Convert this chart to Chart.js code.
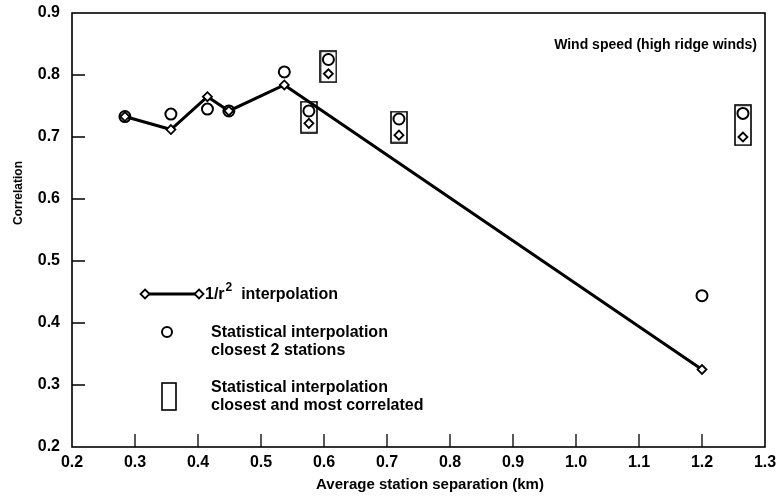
<!DOCTYPE html>
<html>
<head>
<meta charset="utf-8">
<script src="https://cdn.jsdelivr.net/npm/chart.js@4.4.1/dist/chart.umd.min.js"></script>
<style>
  html, body { margin: 0; padding: 0; background: #fff; }
  #wrap { width: 778px; height: 498px; position: relative; }
</style>
</head>
<body>
<div id="wrap"><canvas id="chart"></canvas></div>
<script>
// axis ticks
const xTicks = [0.2, 0.3, 0.4, 0.5, 0.6, 0.7, 0.8, 0.9, 1.0, 1.1, 1.2, 1.3];
const yTicks = [0.2, 0.3, 0.4, 0.5, 0.6, 0.7, 0.8, 0.9];

// 1/r^2 interpolation (joined line)
const interpX = [0.284, 0.357, 0.415, 0.449, 0.537, 1.2];
const interpY = [0.733, 0.712, 0.765, 0.742, 0.784, 0.325];

// statistical interpolation, closest 2 stations
const closestX = [0.284, 0.357, 0.415, 0.449, 0.537, 1.2];
const closestY = [0.733, 0.737, 0.745, 0.742, 0.805, 0.444];

// boxed points: statistical interpolation closest and most correlated
const boxX = [0.576, 0.607, 0.719, 1.265];
const boxCircleY = [0.742, 0.825, 0.729, 0.738];
const boxDiamondY = [0.722, 0.802, 0.703, 0.700];

const FONT = '"Liberation Sans", Arial, sans-serif';

function boxImage(w, h) {
  const c = document.createElement('canvas');
  c.width = w; c.height = h;
  const g = c.getContext('2d');
  g.strokeStyle = '#000';
  g.lineWidth = 1.6;
  g.strokeRect(1, 1, w - 2, h - 2);
  return c;
}
const boxSmall = boxImage(18, 33);
const boxTall = boxImage(18, 42);

const pts = (xs, ys) => xs.map((x, i) => ({ x: x, y: ys[i] }));

// ticks drawn inward, frame, legend and notes
const decor = {
  id: 'decor',
  afterDatasetsDraw(chart) {
    const ctx = chart.ctx;
    const a = chart.chartArea;
    const xs = chart.scales.x, ys = chart.scales.y;
    ctx.save();
    ctx.strokeStyle = '#000';
    ctx.lineWidth = 1.6;
    ctx.strokeRect(a.left, a.top, a.right - a.left, a.bottom - a.top);
    ctx.lineWidth = 1.3;
    ctx.beginPath();
    xTicks.slice(1, -1).forEach(v => {
      const px = xs.getPixelForValue(v);
      ctx.moveTo(px, a.bottom);
      ctx.lineTo(px, a.bottom - 13);
    });
    yTicks.slice(1, -1).forEach(v => {
      const py = ys.getPixelForValue(v);
      ctx.moveTo(a.left, py);
      ctx.lineTo(a.left + 13, py);
    });
    ctx.stroke();

    // legend
    ctx.lineWidth = 3;
    ctx.beginPath();
    ctx.moveTo(145, 294);
    ctx.lineTo(199, 294);
    ctx.stroke();
    [145, 199].forEach(x => {
      ctx.beginPath();
      ctx.moveTo(x, 289.5); ctx.lineTo(x + 4.5, 294); ctx.lineTo(x, 298.5); ctx.lineTo(x - 4.5, 294);
      ctx.closePath();
      ctx.fillStyle = '#fff';
      ctx.fill();
      ctx.lineWidth = 1.8;
      ctx.stroke();
    });
    ctx.beginPath();
    ctx.lineWidth = 2;
    ctx.arc(167, 332, 5, 0, Math.PI * 2);
    ctx.stroke();
    ctx.lineWidth = 1.6;
    ctx.strokeRect(162, 383, 14, 27);

    ctx.fillStyle = '#000';
    ctx.textBaseline = 'middle';
    ctx.textAlign = 'left';
    ctx.font = 'bold 16px ' + FONT;
    ctx.fillText('1/r', 205, 295);
    let w = ctx.measureText('1/r').width;
    ctx.font = 'bold 12px ' + FONT;
    ctx.fillText('2', 205 + w + 1, 288);
    let w2 = ctx.measureText('2').width;
    ctx.font = 'bold 16px ' + FONT;
    ctx.fillText('  interpolation', 205 + w + w2 + 1, 295);
    ctx.fillText('Statistical interpolation', 211, 333);
    ctx.fillText('closest 2 stations', 211, 351);
    ctx.fillText('Statistical interpolation', 211, 388);
    ctx.fillText('closest and most correlated', 211, 406);

    ctx.font = 'bold 14px ' + FONT;
    ctx.textAlign = 'right';
    ctx.fillText('Wind speed (high ridge winds)', 757, 45);

    // x axis title
    ctx.textAlign = 'center';
    ctx.font = 'bold 15px ' + FONT;
    ctx.fillText('Average station separation (km)', 430, 485);

    // y axis title
    ctx.translate(19, 193);
    ctx.rotate(-Math.PI / 2);
    ctx.font = 'bold 12px ' + FONT;
    ctx.fillText('Correlation', 0, 0);
    ctx.restore();
  }
};

new Chart(document.getElementById('chart'), {
  type: 'scatter',
  data: {
    datasets: [
      {
        label: '1/r2 interpolation',
        data: pts(interpX, interpY),
        showLine: true,
        borderColor: '#000',
        borderWidth: 3,
        pointStyle: 'rectRot',
        pointRadius: 4.5,
        pointBackgroundColor: '#fff',
        pointBorderColor: '#000',
        pointBorderWidth: 1.8
      },
      {
        label: 'Closest and most correlated',
        data: pts(boxX, boxDiamondY),
        pointStyle: 'rectRot',
        pointRadius: 4.5,
        pointBackgroundColor: '#fff',
        pointBorderColor: '#000',
        pointBorderWidth: 1.8
      },
      {
        label: 'Closest 2 stations',
        data: pts(closestX, closestY).concat(pts(boxX, boxCircleY)),
        pointStyle: 'circle',
        pointRadius: 5.5,
        pointBackgroundColor: 'rgba(0,0,0,0)',
        pointBorderColor: '#000',
        pointBorderWidth: 2
      },
      {
        label: 'Boxes',
        data: boxX.map((x, i) => ({ x: x, y: (boxCircleY[i] + boxDiamondY[i]) / 2 })),
        pointStyle: [boxSmall, boxSmall, boxSmall, boxTall],
        pointRadius: 10
      }
    ]
  },
  options: {
    responsive: true,
    maintainAspectRatio: false,
    animation: false,
    layout: { padding: { top: 13, right: 13, left: 0, bottom: 0 } },
    plugins: { legend: { display: false }, tooltip: { enabled: false } },
    scales: {
      x: {
        type: 'linear',
        min: 0.2,
        max: 1.3,
        afterBuildTicks: s => { s.ticks = xTicks.map(v => ({ value: v })); },
        afterFit: s => { s.height = 51; s.paddingLeft = 0; s.paddingRight = 0; },
        grid: { display: false, drawTicks: false },
        border: { display: false },
        ticks: {
          color: '#000',
          padding: 6,
          autoSkip: false,
          maxRotation: 0,
          font: { family: FONT, size: 16, weight: 'bold' },
          callback: v => v.toFixed(1)
        }
      },
      y: {
        min: 0.2,
        max: 0.9,
        afterBuildTicks: s => { s.ticks = yTicks.map(v => ({ value: v })); },
        afterFit: s => { s.width = 72; s.paddingTop = 0; s.paddingBottom = 0; },
        grid: { display: false, drawTicks: false },
        border: { display: false },
        ticks: {
          color: '#000',
          padding: 12,
          font: { family: FONT, size: 16, weight: 'bold' },
          callback: v => v.toFixed(1)
        }
      }
    }
  },
  plugins: [decor]
});
</script>
</body>
</html>
